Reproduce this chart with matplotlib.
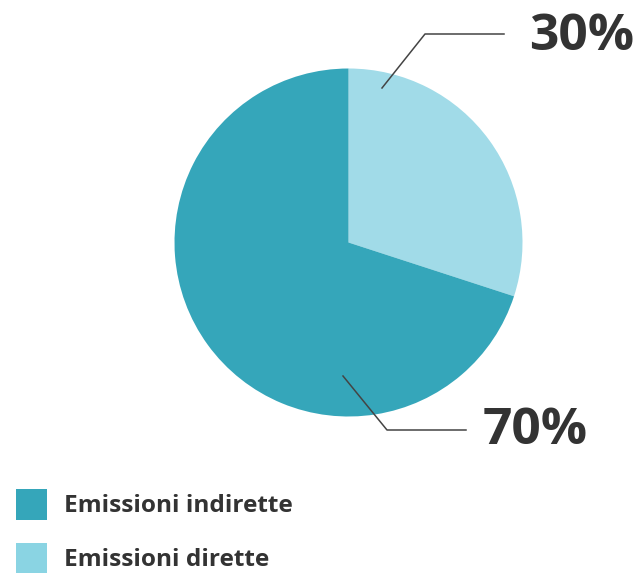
import matplotlib
matplotlib.use("Agg")
import matplotlib.pyplot as plt
from matplotlib.patches import Rectangle

categories = ["Emissioni dirette", "Emissioni indirette"]
values = [30, 70]
pct_labels = ["30%", "70%"]
legend_order = ["Emissioni indirette", "Emissioni dirette"]

pie_colors = {"Emissioni dirette": "#A1DBE8", "Emissioni indirette": "#35A6BA"}
legend_colors = {"Emissioni dirette": "#8AD4E3", "Emissioni indirette": "#35A6BA"}
text_color = "#333333"
W, H = 637, 573

fig = plt.figure(figsize=(W / 100, H / 100), dpi=100)
ax = fig.add_axes([0, 0, 1, 1])
ax.set_xlim(0, W)
ax.set_ylim(0, H)
ax.set_aspect("equal")
ax.axis("off")

def Y(py):
    return H - py

ax.pie(values, colors=[pie_colors[c] for c in categories], startangle=90,
       counterclock=False, center=(348.5, Y(242.5)), radius=174,
       wedgeprops=dict(linewidth=0))
ax.set_xlim(0, W)
ax.set_ylim(0, H)

# leader lines
ax.plot([382, 425, 504], [Y(88), Y(34), Y(34)], color="#444444", lw=1.1)
ax.plot([343, 387, 466], [Y(376), Y(430), Y(430)], color="#444444", lw=1.1)

ax.text(529, Y(37), pct_labels[0], fontsize=37, fontweight="bold",
        family="Open Sans", color=text_color, va="center", ha="left")
ax.text(483, Y(431), pct_labels[1], fontsize=37, fontweight="bold",
        family="Open Sans", color=text_color, va="center", ha="left")

# legend
for i, name in enumerate(legend_order):
    top = 489 + i * 54
    ax.add_patch(Rectangle((16, Y(top + 31)), 31, 31, color=legend_colors[name], lw=0))
    ax.text(64, Y(top + 17), name, fontsize=17.6, fontweight="bold",
            family="Open Sans", color=text_color, va="center", ha="left")

fig.savefig("out.png", dpi=100)
